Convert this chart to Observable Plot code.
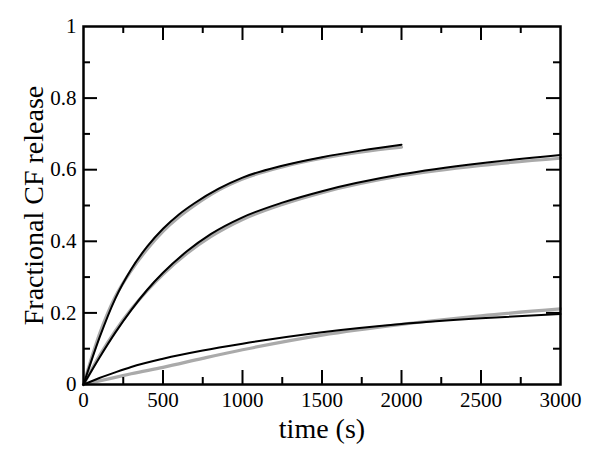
<!DOCTYPE html>
<html>
<head>
<meta charset="utf-8">
<script src="https://cdn.jsdelivr.net/npm/d3@7"></script>
<script src="https://cdn.jsdelivr.net/npm/@observablehq/plot@0.6"></script>
<style>
  html, body { margin: 0; padding: 0; background: #fff; }
  #chart svg, #chart svg text { font-family: "Liberation Serif", "Times New Roman", serif !important; }
  #chart svg g[aria-label$="tick label"] { font-size: 21px !important; }
  #chart svg g[aria-label$="tick label"] text { font-size: 21px !important; }
</style>
</head>
<body>
<div id="chart"></div>
<script>
// ---- data ----
const tA     = [0, 100, 200, 300, 400, 500, 600, 700, 850, 1000, 1250, 1500, 1750, 2000];
const blackA = [0, 0.13, 0.24, 0.322, 0.385, 0.435, 0.475, 0.507, 0.547, 0.578, 0.611, 0.635, 0.654, 0.670];
const grayA  = [0, 0.14, 0.245, 0.318, 0.378, 0.428, 0.468, 0.501, 0.543, 0.574, 0.608, 0.632, 0.650, 0.663];

const tB     = [0, 100, 200, 300, 400, 500, 650, 800, 1000, 1250, 1500, 2000, 2500, 3000];
const blackB = [0, 0.075, 0.145, 0.208, 0.264, 0.312, 0.372, 0.42, 0.467, 0.508, 0.54, 0.587, 0.618, 0.641];
const grayB  = [0, 0.08, 0.15, 0.21, 0.262, 0.308, 0.366, 0.413, 0.461, 0.503, 0.536, 0.583, 0.612, 0.632];

const tC     = [0, 100, 200, 300, 500, 750, 1000, 1500, 2000, 2500, 3000];
const blackC = [0, 0.018, 0.034, 0.049, 0.072, 0.095, 0.114, 0.146, 0.169, 0.185, 0.197];
const grayC  = [0, 0.01, 0.02, 0.03, 0.048, 0.073, 0.097, 0.138, 0.168, 0.192, 0.211];

const majorX = [0, 500, 1000, 1500, 2000, 2500, 3000];
const minorX = [250, 750, 1250, 1750, 2250, 2750];
const majorY = [0, 0.2, 0.4, 0.6, 0.8, 1];
const minorY = [0.1, 0.3, 0.5, 0.7, 0.9];

const xTitle = "time (s)";
const yTitle = "Fractional CF release";

// ---- build tables ----
function series(name, ts, vs) { return ts.map((t, i) => ({series: name, t, v: vs[i]})); }
const grayData = [
  ...series("A", tA, grayA), ...series("B", tB, grayB), ...series("C", tC, grayC)
];
const blackData = [
  ...series("A", tA, blackA), ...series("B", tB, blackB), ...series("C", tC, blackC)
];

const W = 601, H = 454;
const mL = 83, mR = 41, mT = 26, mB = 70;
const fw = W - mL - mR, fh = H - mT - mB;
const majLen = 14, minLen = 7;
const inner = (arr) => arr.filter(d => d !== arr[0] && d !== arr[arr.length - 1]);
const serif = "'Liberation Serif', 'Times New Roman', serif";

const chart = Plot.plot({
  width: W, height: H,
  marginLeft: mL, marginRight: mR, marginTop: mT, marginBottom: mB,
  x: {domain: [0, 3000], axis: null},
  y: {domain: [0, 1], axis: null},
  style: {fontFamily: serif, fontSize: "21px", color: "black", background: "white"},
  marks: [
    // data lines
    Plot.line(grayData, {x: "t", y: "v", z: "series", stroke: "#aaaaaa", strokeWidth: 3.2, curve: "monotone-x"}),
    Plot.line(blackData, {x: "t", y: "v", z: "series", stroke: "black", strokeWidth: 2, curve: "monotone-x"}),
    // inward ticks: bottom & top
    Plot.ruleX(inner(majorX), {x: d => d, insetTop: fh - majLen, stroke: "black", strokeWidth: 2}),
    Plot.ruleX(inner(majorX), {x: d => d, insetBottom: fh - majLen, stroke: "black", strokeWidth: 2}),
    Plot.ruleX(minorX, {x: d => d, insetTop: fh - minLen, stroke: "black", strokeWidth: 2}),
    Plot.ruleX(minorX, {x: d => d, insetBottom: fh - minLen, stroke: "black", strokeWidth: 2}),
    // inward ticks: left & right
    Plot.ruleY(inner(majorY), {y: d => d, insetRight: fw - majLen, stroke: "black", strokeWidth: 2}),
    Plot.ruleY(inner(majorY), {y: d => d, insetLeft: fw - majLen, stroke: "black", strokeWidth: 2}),
    Plot.ruleY(minorY, {y: d => d, insetRight: fw - minLen, stroke: "black", strokeWidth: 2}),
    Plot.ruleY(minorY, {y: d => d, insetLeft: fw - minLen, stroke: "black", strokeWidth: 2}),
    Plot.frame({stroke: "black", strokeWidth: 2.5}),
    // tick labels
    Plot.axisX({ticks: majorX, tickSize: 0, tickPadding: 8, tickFormat: d => String(d), label: null, fontSize: 21, fontFamily: serif}),
    Plot.axisY({ticks: majorY, tickSize: 0, tickPadding: 7, tickFormat: d => String(d), label: null, fontSize: 21, fontFamily: serif}),
    // titles
    Plot.text([xTitle], {text: d => d, frameAnchor: "bottom", textAnchor: "middle", lineAnchor: "bottom", dy: 53, fontSize: 28, fontFamily: serif}),
    Plot.text([yTitle], {text: d => d, frameAnchor: "left", textAnchor: "middle", lineAnchor: "bottom", rotate: -90, dx: -41, fontSize: 28, fontFamily: serif})
  ]
});
document.getElementById("chart").appendChild(chart);
</script>
</body>
</html>
